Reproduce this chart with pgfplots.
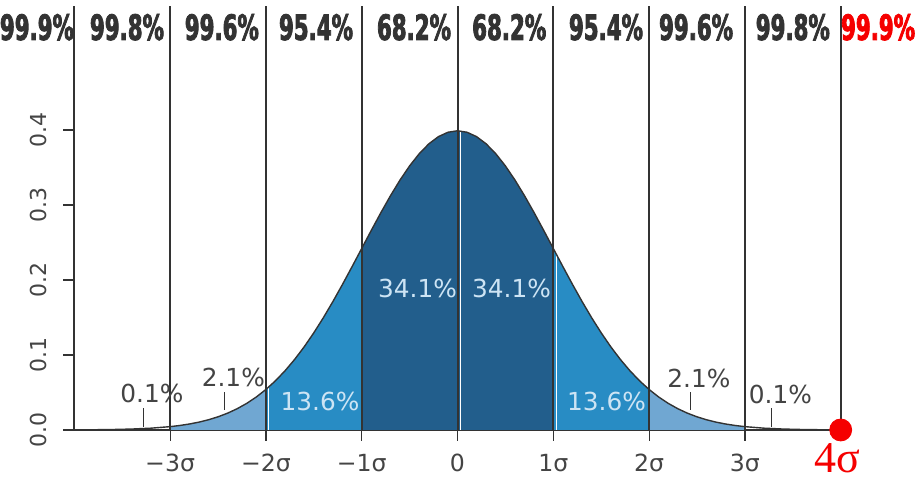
\documentclass[border=0pt]{standalone}
\usepackage{pgfplots}
\pgfplotsset{compat=1.18}
\usepackage{pgfplotstable}
\usepackage{fontspec}
\setmainfont{DejaVu Sans}
\newfontfamily\topfont{DejaVu Sans}[FakeStretch=0.61, FakeBold=2.2]
\newfontfamily\redfont{Liberation Serif}

\definecolor{cDark}{RGB}{34,94,140}
\definecolor{cMid}{RGB}{40,140,196}
\definecolor{cLight}{RGB}{112,167,210}
\definecolor{cLine}{HTML}{333333}
\definecolor{cTxt}{HTML}{444444}
\definecolor{cLbl}{RGB}{205,228,244}
\definecolor{cRed}{RGB}{245,0,0}

% standard normal density, read at fixed steps
\pgfplotstableread{
x y
-4.0 0.000134
-3.8 0.000292
-3.6 0.000612
-3.4 0.001232
-3.2 0.002384
-3.0 0.004432
-2.9 0.005953
-2.8 0.007915
-2.7 0.010421
-2.6 0.013583
-2.5 0.017528
-2.4 0.022395
-2.3 0.028327
-2.2 0.035475
-2.1 0.043984
-2.0 0.053991
-1.9 0.065616
-1.8 0.078950
-1.7 0.094049
-1.6 0.110921
-1.5 0.129518
-1.4 0.149727
-1.3 0.171369
-1.2 0.194186
-1.1 0.217852
-1.0 0.241971
-0.9 0.266085
-0.8 0.289692
-0.7 0.312254
-0.6 0.333225
-0.5 0.352065
-0.4 0.368270
-0.3 0.381388
-0.2 0.391043
-0.1 0.396953
0.0 0.398942
0.1 0.396953
0.2 0.391043
0.3 0.381388
0.4 0.368270
0.5 0.352065
0.6 0.333225
0.7 0.312254
0.8 0.289692
0.9 0.266085
1.0 0.241971
1.1 0.217852
1.2 0.194186
1.3 0.171369
1.4 0.149727
1.5 0.129518
1.6 0.110921
1.7 0.094049
1.8 0.078950
1.9 0.065616
2.0 0.053991
2.1 0.043984
2.2 0.035475
2.3 0.028327
2.4 0.022395
2.5 0.017528
2.6 0.013583
2.7 0.010421
2.8 0.007915
2.9 0.005953
3.0 0.004432
3.2 0.002384
3.4 0.001232
3.6 0.000612
3.8 0.000292
4.0 0.000134
}\pdftab

\begin{document}
\begin{tikzpicture}
\begin{axis}[
  x=47.9pt, y=375pt,
  xmin=-4, xmax=4, ymin=0, ymax=0.565,
  axis lines=left,
  axis line style={cLine, line width=0.6pt, -},
  clip=false,
  xtick={-3,-2,-1,0,1,2,3},
  xticklabels={−3σ,−2σ,−1σ,0,1σ,2σ,3σ},
  ytick={0,0.1,0.2,0.3,0.4},
  yticklabels={0.0,0.1,0.2,0.3,0.4},
  tick align=outside, major tick length=5.5pt,
  tick style={cLine, line width=0.6pt},
  ticklabel style={text=cTxt},
  yticklabel style={rotate=90, anchor=south, yshift=4.5pt, font=\fontsize{11}{13}\selectfont},
  xticklabel style={anchor=north, yshift=-3pt, font=\fontsize{11.8}{14}\selectfont},
]
% filled bands under the curve
\addplot[draw=none, fill=cLight] table[restrict x to domain=-3.01:-1.99] {\pdftab} \closedcycle;
\addplot[draw=none, fill=cLight] table[restrict x to domain=1.99:3.01] {\pdftab} \closedcycle;
\addplot[draw=none, fill=cMid] table[restrict x to domain=-2.01:-0.99] {\pdftab} \closedcycle;
\addplot[draw=none, fill=cMid] table[restrict x to domain=0.99:2.01] {\pdftab} \closedcycle;
\addplot[draw=none, fill=cDark] table[restrict x to domain=-1.01:1.01] {\pdftab} \closedcycle;

% white separators inside the fill
\addplot[white, line width=0.6pt] coordinates {(-1.97,0) (-1.97,0.0575)};
\addplot[white, line width=0.6pt] coordinates {(0.03,0) (0.03,0.3988)};
\addplot[white, line width=0.6pt] coordinates {(1.03,0) (1.03,0.2345)};

% sigma lines
\pgfplotsinvokeforeach{-4,-3,-2,-1,0,1,2,3,4}{
  \draw[cLine, line width=1pt] (axis cs:#1,0) -- (axis cs:#1,0.565);
}

\addplot[cLine, line width=0.7pt] table {\pdftab};

% small pointer ticks
\addplot[cLine, line width=0.7pt] coordinates {(-3.28,0.004) (-3.28,0.029)};
\addplot[cLine, line width=0.7pt] coordinates {(-2.43,0.027) (-2.43,0.051)};
\addplot[cLine, line width=0.7pt] coordinates {(2.43,0.027) (2.43,0.051)};
\addplot[cLine, line width=0.7pt] coordinates {(3.28,0.004) (3.28,0.029)};

% band labels
\begin{scope}[every node/.style={font=\fontsize{12.4}{14}\selectfont, inner sep=0pt}]
\node[text=cTxt] at (axis cs:-3.19,0.0487) {0.1\%};
\node[text=cTxt] at (axis cs:-2.34,0.0700) {2.1\%};
\node[text=cLbl] at (axis cs:-1.435,0.0380) {13.6\%};
\node[text=cLbl] at (axis cs:-0.4175,0.189) {34.1\%};
\node[text=cLbl] at (axis cs:0.564,0.189) {34.1\%};
\node[text=cLbl] at (axis cs:1.555,0.0380) {13.6\%};
\node[text=cTxt] at (axis cs:2.52,0.0687) {2.1\%};
\node[text=cTxt] at (axis cs:3.37,0.0473) {0.1\%};
\end{scope}

% top labels
\begin{scope}[every node/.style={font=\topfont\bfseries\fontsize{17.5}{20}\selectfont, inner sep=0pt, text=cLine}]
\node at (axis cs:-4.39,0.537) {99.9\%};
\node at (axis cs:-3.45,0.537) {99.8\%};
\node at (axis cs:-2.46,0.537) {99.6\%};
\node at (axis cs:-1.477,0.537) {95.4\%};
\node at (axis cs:-0.454,0.537) {68.2\%};
\node at (axis cs:0.54,0.537) {68.2\%};
\node at (axis cs:1.55,0.537) {95.4\%};
\node at (axis cs:2.49,0.537) {99.6\%};
\node at (axis cs:3.5,0.537) {99.8\%};
\node[text=cRed] at (axis cs:4.39,0.537) {99.9\%};
\end{scope}

\addplot[only marks, mark=*, mark size=5.5pt, color=cRed] coordinates {(4,0)};
\node[text=cRed, font=\redfont\fontsize{22}{24}\selectfont, inner sep=0pt] at (axis cs:3.97,-0.0373) {4σ};

\coordinate (BL) at (axis cs:-4.7756,-0.0987);
\coordinate (TR) at (axis cs:4.7756,0.5733);
\end{axis}
\pgfresetboundingbox
\useasboundingbox (BL) rectangle (TR);
\end{tikzpicture}
\end{document}
